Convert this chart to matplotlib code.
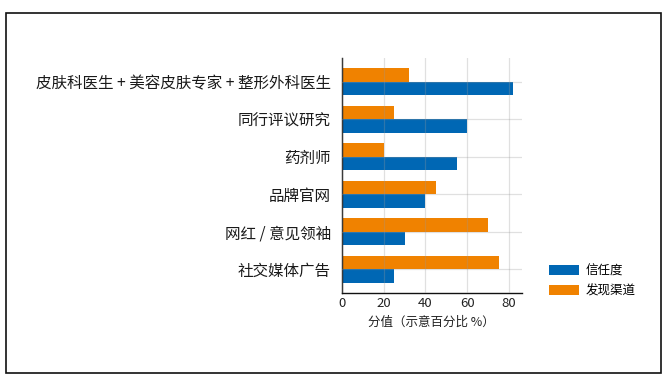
import matplotlib
matplotlib.use("Agg")
import matplotlib.pyplot as plt
from matplotlib.patches import Rectangle
import numpy as np

plt.rcParams['font.family'] = ['Noto Sans CJK SC', 'DejaVu Sans']

categories = ["皮肤科医生 + 美容皮肤专家 + 整形外科医生", "同行评议研究", "药剂师",
              "品牌官网", "网红 / 意见领袖", "社交媒体广告"]
trust = [82, 60, 55, 40, 30, 25]
discovery = [32, 25, 20, 45, 70, 75]
series_names = ["信任度", "发现渠道"]
xticks = [0, 20, 40, 60, 80]

blue = "#0067b4"
orange = "#f08200"

W, H = 668, 378
fig = plt.figure(figsize=(W / 100, H / 100), dpi=100)
fig.patches.append(Rectangle((5.5 / W, 1 - 372.5 / H), 655 / W, 360 / H,
                             transform=fig.transFigure, fill=False,
                             edgecolor="#111111", linewidth=1.2))

left, right, top, bottom = 342, 521.5, 58, 293
ax = fig.add_axes([left / W, 1 - bottom / H, (right - left) / W, (bottom - top) / H])

y = np.arange(len(categories))
h = 0.36
ax.barh(y + h / 2, trust, height=h, color=blue, label=series_names[0], zorder=1)
ax.barh(y - h / 2, discovery, height=h, color=orange, label=series_names[1], zorder=1)

ax.set_ylim(len(categories) - 1 + 0.64, -0.64)
ax.set_xlim(0, 86)
ax.set_xticks(xticks)
ax.set_yticks(y)
ax.set_yticklabels(categories, fontsize=11.2, color="#1a1a1a", fontweight="medium")
ax.tick_params(axis="x", labelsize=9.5, colors="#222222", length=0, pad=3)
ax.tick_params(axis="y", length=0, pad=8)
ax.grid(True, color="#999999", alpha=0.3, linewidth=0.9, zorder=3)
ax.set_axisbelow(False)
for s in ["top", "right"]:
    ax.spines[s].set_visible(False)
for s in ["left", "bottom"]:
    ax.spines[s].set_color("#111111")
    ax.spines[s].set_linewidth(1.0)
ax.set_xlabel("分值（示意百分比 %）", fontsize=9, color="#222222", labelpad=4)

handles, labels = ax.get_legend_handles_labels()
fig.legend(handles, labels, loc="upper left", bbox_to_anchor=(538 / W, 1 - 253 / H),
           frameon=False, fontsize=9, handlelength=2.4, handleheight=0.8,
           labelspacing=0.55, handletextpad=0.5)

fig.savefig("out.png", dpi=100)
